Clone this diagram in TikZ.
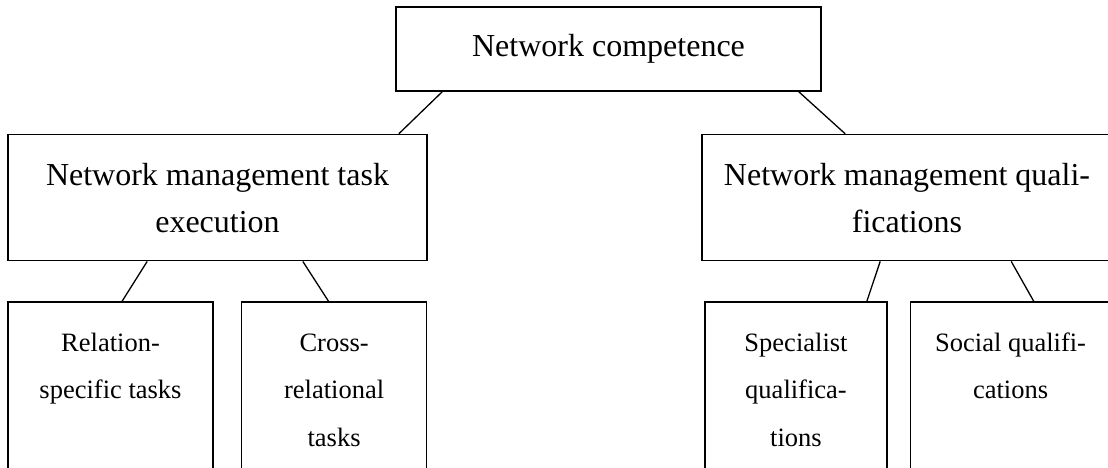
\documentclass[tikz,border=0pt]{standalone}
\usepackage{fontspec}
\setmainfont{Liberation Serif}
\usetikzlibrary{positioning}

\begin{document}
\begin{tikzpicture}[
    x=1pt, y=1pt,
    topbox/.style = {
        rectangle, draw=black, line width=1.6pt, inner sep=0pt,
        minimum width=425pt, minimum height=84pt,
        align=center, font=\fontsize{32}{47}\selectfont
    },
    midbox/.style = {
        rectangle, draw=black, line width=1.6pt, inner sep=0pt,
        minimum width=419pt, minimum height=126pt,
        align=center, font=\fontsize{32}{47}\selectfont
    },
    leafbox/.style = {
        rectangle, draw=black, line width=1.6pt, inner sep=0pt,
        text height=96.5pt, text depth=93.5pt,
        align=center, font=\fontsize{26.5}{47.5}\selectfont
    },
    leafthree/.style = {leafbox, text height=144pt, text depth=46pt},
    link/.style = {line width=1.3pt, draw=black},
]
\useasboundingbox (0,0) rectangle (1108,468);

% Top
\node[topbox] (comp) at (608.5,419) {Network competence};

% Second level
\node[midbox, below=42pt of comp, xshift=-391pt] (exec)
    {Network management task\\execution};
\node[midbox, minimum width=410pt, below=42pt of comp, xshift=298.5pt] (qual)
    {Network management quali-\\fications};

% Leaves
\node[leafbox, minimum width=205pt, below=40pt of exec, xshift=-107pt] (rel)
    {Relation-\\specific tasks};
\node[leafthree, minimum width=185pt, right=27pt of rel] (cross)
    {Cross-\\relational\\tasks};
\node[leafthree, minimum width=182pt, below=40pt of qual, xshift=-111pt] (spec)
    {Specialist\\qualifica-\\tions};
\node[leafbox, minimum width=200pt, right=22pt of spec] (social)
    {Social qualifi-\\cations};

% Links
\draw[link] ([xshift=47pt]comp.south west) -- ([xshift=-29pt]exec.north east);
\draw[link] ([xshift=-23pt]comp.south east) -- ([xshift=144pt]qual.north west);
\draw[link] ([xshift=140pt]exec.south west) -- ([xshift=11.5pt]rel.north);
\draw[link] ([xshift=-125pt]exec.south east) -- ([xshift=-5.5pt]cross.north);
\draw[link] ([xshift=179pt]qual.south west) -- ([xshift=-21pt]spec.north east);
\draw[link] ([xshift=310pt]qual.south west) -- ([xshift=124pt]social.north west);

\end{tikzpicture}
\end{document}
